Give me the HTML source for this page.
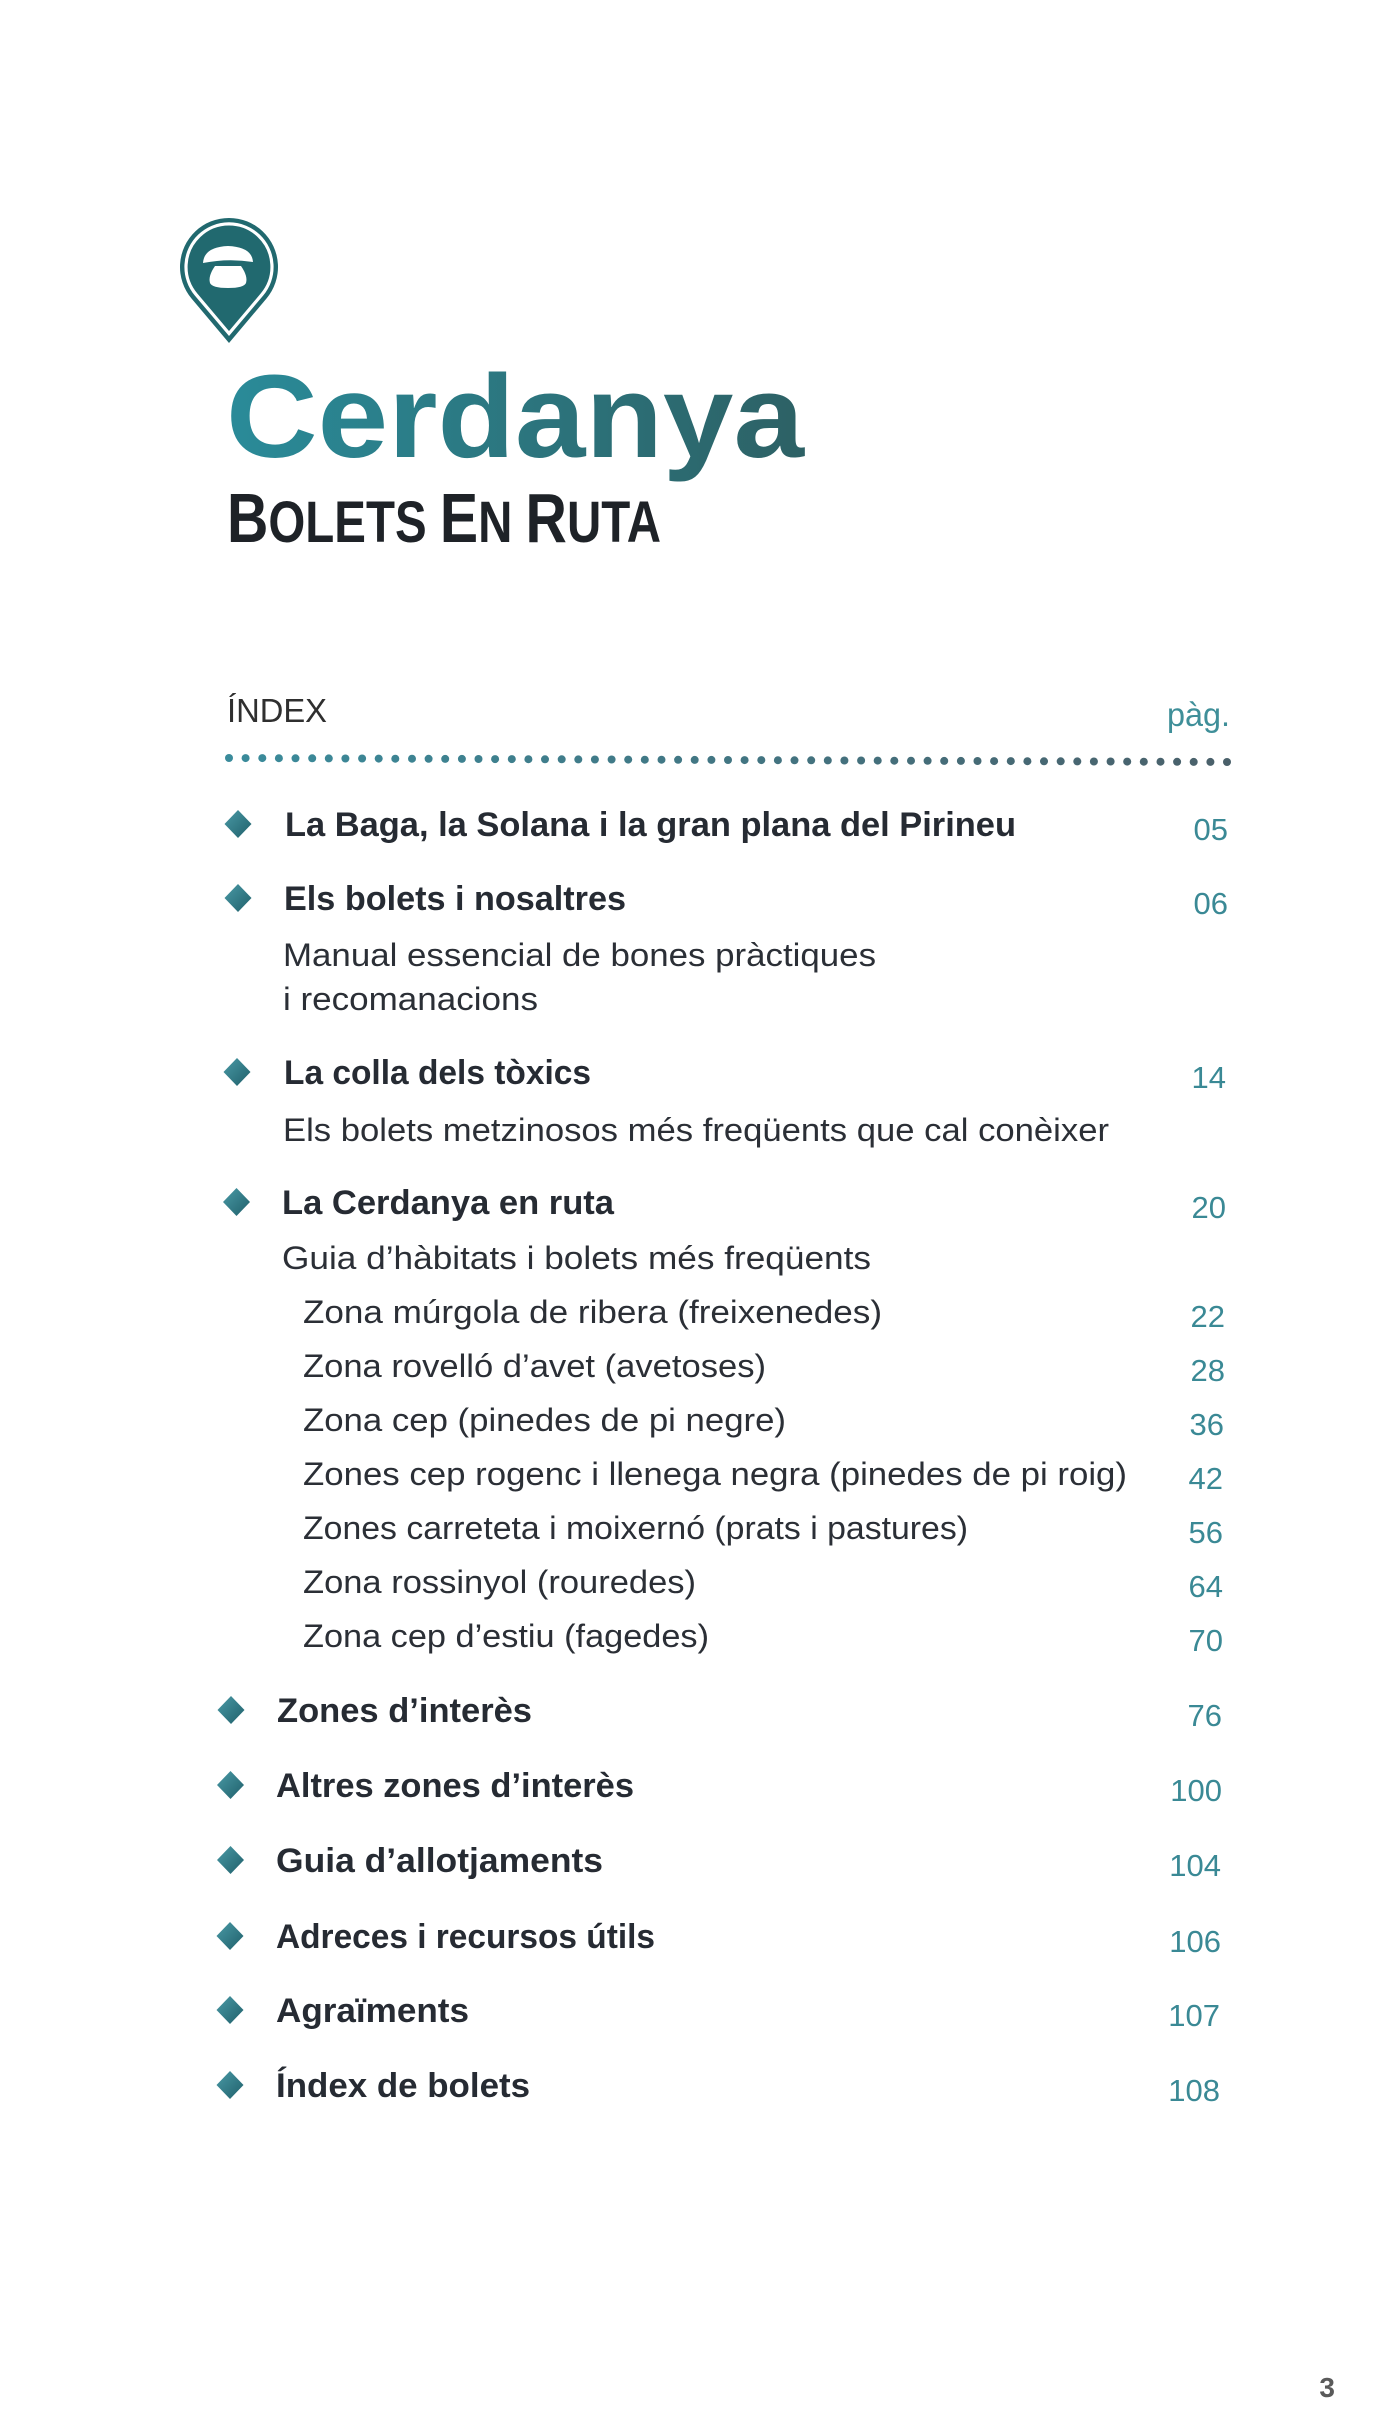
<!DOCTYPE html>
<html>
<head>
<meta charset="utf-8">
<style>
  html, body { margin: 0; padding: 0; background: #ffffff; }
  svg { display: block; }
  .b { font-family: "Liberation Sans", sans-serif; font-weight: bold; fill: #262b33; font-size: 34px; }
  .r { font-family: "Liberation Sans", sans-serif; font-weight: normal; fill: #2b2f36; font-size: 32px; }
  .n { font-family: "Liberation Sans", sans-serif; font-weight: normal; fill: #3a8995; font-size: 31px; }
</style>
</head>
<body>
<svg xmlns="http://www.w3.org/2000/svg" width="1388" height="2422" viewBox="0 0 1388 2422">
  <defs>
    <linearGradient id="cg" x1="226" y1="0" x2="804" y2="0" gradientUnits="userSpaceOnUse">
      <stop offset="0" stop-color="#2a8b99"/>
      <stop offset="1" stop-color="#2d6165"/>
    </linearGradient>
    <linearGradient id="dg" x1="229" y1="0" x2="1227" y2="0" gradientUnits="userSpaceOnUse">
      <stop offset="0" stop-color="#3a8b9b"/>
      <stop offset="1" stop-color="#4a606a"/>
    </linearGradient>
    <linearGradient id="dia" x1="0" y1="0" x2="1" y2="1">
      <stop offset="0" stop-color="#4a9aa6"/>
      <stop offset="1" stop-color="#1f5f6a"/>
    </linearGradient>
  </defs>

  <rect x="0" y="0" width="1388" height="2422" fill="#ffffff"/>

  <!-- Pin icon -->
  <path d="M229,343 L191.6,298.6 A49,49 0 1,1 266.4,298.6 Z" fill="#21696f"/>
  <path d="M229,333.5 L196.2,294.7 A43,43 0 1,1 261.8,294.7 Z" fill="none" stroke="#ffffff" stroke-width="3.2"/>
  <path d="M203,263 Q204,247 228,246 Q252,247 253,262 Q228,258 203,263 Z" fill="#ffffff"/>
  <path d="M215,266 L241,266 Q248,276 246,283 Q244,288 228,288 Q212,288 210,283 Q208,276 215,266 Z" fill="#ffffff"/>

  <!-- Title -->
  <text x="226" y="457" font-family="Liberation Sans, sans-serif" font-weight="bold" font-size="118" fill="url(#cg)" textLength="578" lengthAdjust="spacingAndGlyphs">Cerdanya</text>
  <text x="227" y="542" font-family="Liberation Sans, sans-serif" font-weight="bold" fill="#1e2227" textLength="434" lengthAdjust="spacingAndGlyphs"><tspan font-size="70">B</tspan><tspan font-size="58">OLETS </tspan><tspan font-size="70">E</tspan><tspan font-size="58">N </tspan><tspan font-size="70">R</tspan><tspan font-size="58">UTA</tspan></text>

  <!-- Index header -->
  <text x="227" y="722" font-family="Liberation Sans, sans-serif" font-size="33" fill="#2f2f2f" textLength="100" lengthAdjust="spacingAndGlyphs">ÍNDEX</text>
  <text x="1167" y="726" font-family="Liberation Sans, sans-serif" font-size="33" fill="#3f8f99" textLength="63" lengthAdjust="spacingAndGlyphs">pàg.</text>

  <!-- Diamonds -->
  <g fill="url(#dia)">
    <path d="M238,810 L251.5,824 L238,838 L224.5,824 Z"/>
    <path d="M238,884 L251.5,898 L238,912 L224.5,898 Z"/>
    <path d="M237,1058 L250.5,1072 L237,1086 L223.5,1072 Z"/>
    <path d="M236.5,1188 L250,1202 L236.5,1216 L223,1202 Z"/>
    <path d="M231,1696 L244.5,1710 L231,1724 L217.5,1710 Z"/>
    <path d="M230.5,1771 L244,1785 L230.5,1799 L217,1785 Z"/>
    <path d="M230.5,1846 L244,1860 L230.5,1874 L217,1860 Z"/>
    <path d="M230,1922 L243.5,1936 L230,1950 L216.5,1936 Z"/>
    <path d="M230,1996 L243.5,2010 L230,2024 L216.5,2010 Z"/>
    <path d="M230,2071 L243.5,2085 L230,2099 L216.5,2085 Z"/>
  </g>

  <!-- Entries -->
  <text class="b" x="285" y="836" textLength="731" lengthAdjust="spacingAndGlyphs">La Baga, la Solana i la gran plana del Pirineu</text>
  <text class="n" x="1228" y="840" text-anchor="end">05</text>

  <text class="b" x="284" y="910" textLength="342" lengthAdjust="spacingAndGlyphs">Els bolets i nosaltres</text>
  <text class="n" x="1228" y="914" text-anchor="end">06</text>
  <text class="r" x="283" y="966" textLength="593" lengthAdjust="spacingAndGlyphs">Manual essencial de bones pràctiques</text>
  <text class="r" x="283" y="1010" textLength="255" lengthAdjust="spacingAndGlyphs">i recomanacions</text>

  <text class="b" x="284" y="1084" textLength="307" lengthAdjust="spacingAndGlyphs">La colla dels tòxics</text>
  <text class="n" x="1226" y="1088" text-anchor="end">14</text>
  <text class="r" x="283" y="1141" textLength="826" lengthAdjust="spacingAndGlyphs">Els bolets metzinosos més freqüents que cal conèixer</text>

  <text class="b" x="282" y="1214" textLength="332" lengthAdjust="spacingAndGlyphs">La Cerdanya en ruta</text>
  <text class="n" x="1226" y="1218" text-anchor="end">20</text>
  <text class="r" x="282" y="1269" textLength="589" lengthAdjust="spacingAndGlyphs">Guia d’hàbitats i bolets més freqüents</text>

  <text class="r" x="303" y="1323" textLength="579" lengthAdjust="spacingAndGlyphs">Zona múrgola de ribera (freixenedes)</text>
  <text class="n" x="1225" y="1327" text-anchor="end">22</text>
  <text class="r" x="303" y="1377" textLength="463" lengthAdjust="spacingAndGlyphs">Zona rovelló d’avet (avetoses)</text>
  <text class="n" x="1225" y="1381" text-anchor="end">28</text>
  <text class="r" x="303" y="1431" textLength="483" lengthAdjust="spacingAndGlyphs">Zona cep (pinedes de pi negre)</text>
  <text class="n" x="1224" y="1435" text-anchor="end">36</text>
  <text class="r" x="303" y="1485" textLength="824" lengthAdjust="spacingAndGlyphs">Zones cep rogenc i llenega negra (pinedes de pi roig)</text>
  <text class="n" x="1223" y="1489" text-anchor="end">42</text>
  <text class="r" x="303" y="1539" textLength="665" lengthAdjust="spacingAndGlyphs">Zones carreteta i moixernó (prats i pastures)</text>
  <text class="n" x="1223" y="1543" text-anchor="end">56</text>
  <text class="r" x="303" y="1593" textLength="393" lengthAdjust="spacingAndGlyphs">Zona rossinyol (rouredes)</text>
  <text class="n" x="1223" y="1597" text-anchor="end">64</text>
  <text class="r" x="303" y="1647" textLength="406" lengthAdjust="spacingAndGlyphs">Zona cep d’estiu (fagedes)</text>
  <text class="n" x="1223" y="1651" text-anchor="end">70</text>

  <text class="b" x="277" y="1722" textLength="255" lengthAdjust="spacingAndGlyphs">Zones d’interès</text>
  <text class="n" x="1222" y="1726" text-anchor="end">76</text>
  <text class="b" x="276" y="1797" textLength="358" lengthAdjust="spacingAndGlyphs">Altres zones d’interès</text>
  <text class="n" x="1222" y="1801" text-anchor="end">100</text>
  <text class="b" x="276" y="1872" textLength="327" lengthAdjust="spacingAndGlyphs">Guia d’allotjaments</text>
  <text class="n" x="1221" y="1876" text-anchor="end">104</text>
  <text class="b" x="276" y="1948" textLength="379" lengthAdjust="spacingAndGlyphs">Adreces i recursos útils</text>
  <text class="n" x="1221" y="1952" text-anchor="end">106</text>
  <text class="b" x="276" y="2022" textLength="193" lengthAdjust="spacingAndGlyphs">Agraïments</text>
  <text class="n" x="1220" y="2026" text-anchor="end">107</text>
  <text class="b" x="276" y="2097" textLength="254" lengthAdjust="spacingAndGlyphs">Índex de bolets</text>
  <text class="n" x="1220" y="2101" text-anchor="end">108</text>

  <!-- Page number -->
  <text x="1335" y="2397" text-anchor="end" font-family="Liberation Sans, sans-serif" font-weight="bold" font-size="28" fill="#5a5a5a">3</text>

  <!-- Dotted line -->
  <g fill="url(#dg)">
    <circle cx="229.0" cy="758.0" r="4"/><circle cx="245.6" cy="758.1" r="4"/><circle cx="262.3" cy="758.1" r="4"/><circle cx="278.9" cy="758.2" r="4"/><circle cx="295.5" cy="758.3" r="4"/><circle cx="312.2" cy="758.3" r="4"/><circle cx="328.8" cy="758.4" r="4"/><circle cx="345.4" cy="758.5" r="4"/><circle cx="362.1" cy="758.5" r="4"/><circle cx="378.7" cy="758.6" r="4"/>
    <circle cx="395.3" cy="758.7" r="4"/><circle cx="412.0" cy="758.7" r="4"/><circle cx="428.6" cy="758.8" r="4"/><circle cx="445.2" cy="758.9" r="4"/><circle cx="461.9" cy="758.9" r="4"/><circle cx="478.5" cy="759.0" r="4"/><circle cx="495.1" cy="759.1" r="4"/><circle cx="511.8" cy="759.1" r="4"/><circle cx="528.4" cy="759.2" r="4"/><circle cx="545.0" cy="759.3" r="4"/>
    <circle cx="561.7" cy="759.3" r="4"/><circle cx="578.3" cy="759.4" r="4"/><circle cx="594.9" cy="759.5" r="4"/><circle cx="611.6" cy="759.5" r="4"/><circle cx="628.2" cy="759.6" r="4"/><circle cx="644.8" cy="759.7" r="4"/><circle cx="661.5" cy="759.7" r="4"/><circle cx="678.1" cy="759.8" r="4"/><circle cx="694.7" cy="759.9" r="4"/><circle cx="711.4" cy="759.9" r="4"/>
    <circle cx="728.0" cy="760.0" r="4"/><circle cx="744.6" cy="760.1" r="4"/><circle cx="761.3" cy="760.1" r="4"/><circle cx="777.9" cy="760.2" r="4"/><circle cx="794.5" cy="760.3" r="4"/><circle cx="811.2" cy="760.3" r="4"/><circle cx="827.8" cy="760.4" r="4"/><circle cx="844.4" cy="760.5" r="4"/><circle cx="861.1" cy="760.5" r="4"/><circle cx="877.7" cy="760.6" r="4"/>
    <circle cx="894.3" cy="760.7" r="4"/><circle cx="911.0" cy="760.7" r="4"/><circle cx="927.6" cy="760.8" r="4"/><circle cx="944.2" cy="760.9" r="4"/><circle cx="960.9" cy="760.9" r="4"/><circle cx="977.5" cy="761.0" r="4"/><circle cx="994.1" cy="761.1" r="4"/><circle cx="1010.8" cy="761.1" r="4"/><circle cx="1027.4" cy="761.2" r="4"/><circle cx="1044.0" cy="761.3" r="4"/>
    <circle cx="1060.7" cy="761.3" r="4"/><circle cx="1077.3" cy="761.4" r="4"/><circle cx="1093.9" cy="761.5" r="4"/><circle cx="1110.6" cy="761.5" r="4"/><circle cx="1127.2" cy="761.6" r="4"/><circle cx="1143.8" cy="761.7" r="4"/><circle cx="1160.5" cy="761.7" r="4"/><circle cx="1177.1" cy="761.8" r="4"/><circle cx="1193.7" cy="761.9" r="4"/><circle cx="1210.4" cy="761.9" r="4"/>
    <circle cx="1227.0" cy="762.0" r="4"/>
  </g>
</svg>
</body>
</html>
